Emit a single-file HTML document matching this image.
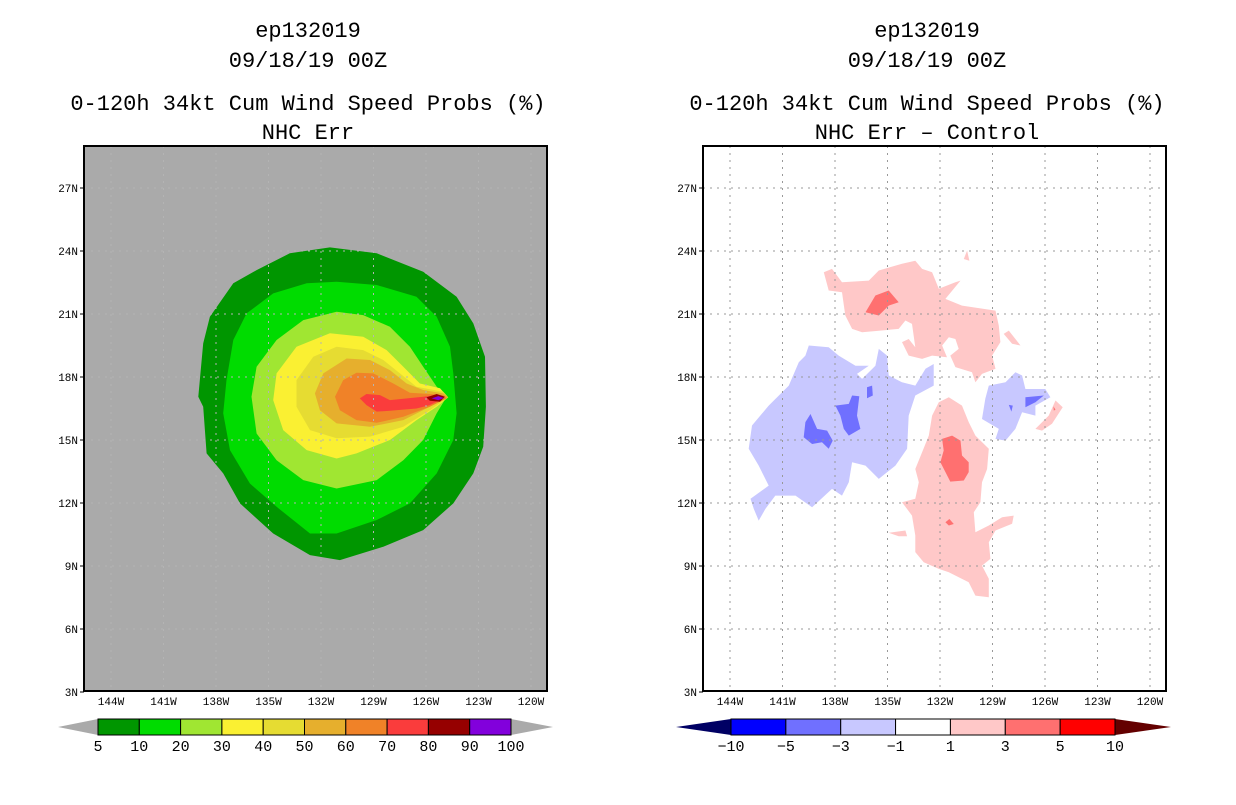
<!DOCTYPE html>
<html><head><meta charset="utf-8"><style>
body{margin:0;background:#fff;width:1236px;height:800px;overflow:hidden}
svg text{font-family:"Liberation Mono",monospace}
</style></head><body>
<svg id="s" width="1236" height="800" xmlns="http://www.w3.org/2000/svg"></svg>
<script>
const lonTicks=[-144,-141,-138,-135,-132,-129,-126,-123,-120];
const latTicks=[3,6,9,12,15,18,21,24,27];
const leftLevels=["5","10","20","30","40","50","60","70","80","90","100"];
const leftColors=["#009600","#00DC00","#A0E632","#FAF032","#E6DC32","#E6AF2D","#F08228","#FA3C3C","#960000","#8200DC"];
const rightLevels=["−10","−5","−3","−1","1","3","5","10"];
const rightColors=["#0000FF","#7070FF","#C8C8FF","#FFFFFF","#FFC8C8","#FF7070","#FF0000"];
// left filled contours: [colorIndex, lon/lat pairs]
const probContours=[
[0,[[-131.49,24.17],[-128.82,23.89],[-126.16,23.01],[-124.25,21.82],[-123.3,20.55],[-122.63,18.96],[-122.58,16.58],[-122.73,14.68],[-123.3,13.41],[-124.44,11.98],[-126.16,10.71],[-128.44,9.92],[-130.92,9.28],[-132.63,9.52],[-134.73,10.55],[-136.63,11.98],[-137.59,13.41],[-138.54,14.36],[-138.73,16.58],[-139.01,17.06],[-138.73,19.6],[-138.35,20.87],[-137.01,22.46],[-135.68,23.09],[-133.78,23.89]]],
[1,[[-131.11,22.54],[-128.82,22.38],[-126.54,21.82],[-125.39,20.87],[-124.63,19.44],[-124.44,18.17],[-124.25,16.27],[-124.44,15.0],[-125.39,13.41],[-126.92,11.98],[-128.82,11.19],[-131.11,10.55],[-132.63,10.55],[-134.54,11.82],[-136.06,12.93],[-137.2,14.52],[-137.59,16.27],[-137.4,17.85],[-137.01,19.76],[-136.25,21.03],[-134.73,21.98],[-132.82,22.46]]],
[2,[[-131.11,21.11],[-129.59,20.95],[-128.06,20.39],[-126.92,19.44],[-126.16,18.49],[-125.39,17.54],[-124.82,17.06],[-125.39,16.27],[-126.16,15.0],[-127.3,14.04],[-128.82,13.09],[-131.11,12.69],[-133.01,13.09],[-134.54,14.04],[-135.68,15.31],[-135.97,17.06],[-135.68,18.49],[-134.54,19.76],[-133.01,20.71]]],
[3,[[-131.49,20.08],[-129.59,19.92],[-128.25,19.28],[-127.3,18.49],[-126.35,17.69],[-125.2,17.46],[-124.73,17.03],[-125.39,16.58],[-126.54,15.95],[-128.06,15.0],[-129.97,14.36],[-131.11,14.12],[-132.82,14.52],[-134.16,15.47],[-134.73,16.9],[-134.54,18.17],[-133.4,19.44]]],
[4,[[-131.11,19.44],[-129.59,19.28],[-128.44,18.81],[-127.49,18.17],[-126.54,17.54],[-125.01,17.3],[-124.73,17.03],[-125.78,16.42],[-127.3,15.63],[-129.2,15.16],[-131.11,15.08],[-132.63,15.47],[-133.4,16.58],[-133.4,17.85],[-132.44,18.96]]],
[5,[[-130.54,18.88],[-129.2,18.81],[-128.06,18.33],[-127.11,17.69],[-126.16,17.38],[-125.01,17.22],[-124.73,17.03],[-125.78,16.58],[-127.3,15.95],[-129.2,15.63],[-131.11,15.79],[-132.06,16.42],[-132.35,17.22],[-131.87,18.17]]],
[6,[[-129.97,18.2],[-129.01,18.17],[-127.87,17.69],[-126.92,17.25],[-125.78,17.19],[-125.01,17.14],[-124.82,16.98],[-125.78,16.58],[-127.3,16.11],[-128.82,15.82],[-129.97,15.95],[-130.92,16.42],[-131.2,17.06],[-130.73,17.85]]],
[7,[[-129.78,16.98],[-129.4,17.19],[-128.63,17.14],[-128.06,16.9],[-126.16,17.06],[-125.39,17.14],[-125.01,16.98],[-125.78,16.66],[-126.54,16.5],[-128.06,16.39],[-128.82,16.35],[-129.4,16.66]]],
[8,[[-125.97,17.03],[-125.39,17.19],[-124.92,17.06],[-125.2,16.82],[-125.78,16.87]]],
[9,[[-125.68,16.98],[-125.3,17.09],[-124.98,17.0],[-125.3,16.89]]]
];
// right difference contours: [colorIndex, lon/lat pairs]
const diffContours=[
[2,[[-139.69,19.02],[-139.5,19.5],[-138.36,19.42],[-137.79,19.02],[-136.83,18.54],[-136.07,18.54],[-136.74,18.15],[-136.45,17.91],[-135.69,18.54],[-135.5,19.34],[-135.02,19.02],[-134.93,18.07],[-134.17,17.75],[-133.41,17.59],[-132.83,18.39],[-132.36,18.62],[-132.36,17.59],[-133.41,17.12],[-133.79,16.16],[-133.88,14.58],[-134.55,13.78],[-135.5,13.15],[-136.26,13.78],[-137.02,13.94],[-137.21,12.99],[-137.6,12.35],[-138.17,12.67],[-139.31,11.8],[-140.26,12.35],[-141.41,12.35],[-141.98,11.72],[-142.36,11.16],[-142.64,11.72],[-142.83,12.2],[-141.79,12.83],[-142.36,13.78],[-142.93,14.58],[-142.74,15.69],[-141.79,16.64],[-140.64,17.59],[-140.07,18.7]]],
[1,[[-139.69,15.85],[-139.4,16.24],[-139.02,15.53],[-138.45,15.45],[-138.13,14.97],[-138.36,14.58],[-138.74,14.89],[-139.31,14.81],[-139.79,15.13]]],
[1,[[-137.98,16.64],[-137.21,16.72],[-137.02,17.12],[-136.61,17.08],[-136.74,16.16],[-136.55,15.53],[-137.21,15.21],[-137.5,15.53],[-137.69,16.16]]],
[1,[[-136.17,17.51],[-135.88,17.59],[-135.84,17.12],[-136.17,16.99]]],
[2,[[-129.21,17.59],[-128.26,17.75],[-127.69,18.23],[-127.31,18.07],[-127.12,17.43],[-125.98,17.43],[-125.69,17.04],[-126.55,16.64],[-126.55,16.16],[-127.31,16.32],[-127.69,15.53],[-128.26,14.97],[-128.83,15.05],[-128.64,15.53],[-129.6,16.0],[-129.41,16.96]]],
[1,[[-127.12,17.04],[-126.07,17.12],[-126.55,16.8],[-127.12,16.56]]],
[1,[[-128.07,16.67],[-127.84,16.64],[-127.92,16.35]]],
[4,[[-138.64,22.99],[-138.17,23.15],[-137.6,22.51],[-136.07,22.59],[-135.5,23.07],[-134.17,23.39],[-133.41,23.54],[-133.02,23.15],[-132.45,22.99],[-132.07,22.2],[-131.12,22.51],[-130.83,22.59],[-131.69,21.72],[-130.74,21.4],[-128.83,21.16],[-128.64,20.45],[-128.55,19.66],[-129.02,19.02],[-128.83,18.39],[-129.6,18.15],[-129.98,17.75],[-130.17,18.23],[-131.12,18.47],[-131.41,19.02],[-130.93,19.34],[-131.12,19.81],[-131.5,19.89],[-131.88,19.5],[-131.6,18.94],[-132.45,19.02],[-133.02,18.86],[-133.79,19.02],[-134.17,19.66],[-133.79,19.81],[-133.41,19.42],[-133.6,20.53],[-133.98,20.69],[-134.36,20.29],[-136.45,20.13],[-137.02,20.29],[-137.41,20.93],[-137.6,22.04],[-138.36,22.12]]],
[5,[[-136.26,21.08],[-135.69,21.88],[-134.93,22.12],[-134.36,21.56],[-134.93,21.4],[-135.5,20.93]]],
[4,[[-128.36,20.05],[-128.07,20.21],[-127.4,19.5],[-127.88,19.58]]],
[4,[[-130.64,23.62],[-130.45,24.02],[-130.32,23.54]]],
[4,[[-132.07,16.8],[-131.5,17.04],[-130.74,16.64],[-130.36,15.85],[-129.98,15.21],[-129.21,14.58],[-129.31,13.62],[-129.6,12.99],[-129.69,12.04],[-130.07,11.56],[-129.98,10.61],[-129.21,10.93],[-128.45,11.32],[-127.79,11.4],[-127.88,11.01],[-128.83,10.69],[-129.21,10.13],[-129.12,9.34],[-129.6,9.02],[-129.21,8.39],[-129.21,7.51],[-129.98,7.59],[-130.36,8.23],[-131.5,8.7],[-132.07,8.86],[-132.93,9.18],[-133.41,9.66],[-133.41,10.45],[-133.6,11.4],[-134.17,12.04],[-133.41,12.2],[-133.21,12.99],[-133.41,13.62],[-133.02,14.42],[-132.64,15.21],[-132.45,16.16]]],
[5,[[-131.88,15.05],[-131.31,15.21],[-130.83,14.97],[-130.74,14.26],[-130.36,13.94],[-130.36,13.47],[-130.64,13.07],[-131.41,13.02],[-131.98,13.94],[-131.79,14.5]]],
[5,[[-131.69,11.08],[-131.46,11.24],[-131.21,11.0],[-131.5,10.93]]],
[4,[[-126.55,15.53],[-125.79,16.16],[-125.4,16.88],[-124.99,16.56],[-125.6,15.77],[-126.17,15.45]]],
[5,[[-125.52,16.6],[-125.4,16.45],[-125.5,16.4]]],
[4,[[-134.93,10.58],[-133.98,10.69],[-133.88,10.42],[-134.36,10.42]]]
];
const NS="http://www.w3.org/2000/svg",svg=document.getElementById('s');
function mk(tag,attrs,parent,txt){const e=document.createElementNS(NS,tag);for(const k in attrs)e.setAttribute(k,attrs[k]);if(txt!==undefined)e.textContent=txt;(parent||svg).appendChild(e);return e;}
function panel(ox,bg,title4,contours,colors,pname,gridCol){
  const g=mk('g',{});
  
  
  const xs=lon=>ox+321+(lon+132)*17.5, ys=lat=>377-(lat-18)*21;
  const L=ox+84,R=ox+547,T=146,B=691,cx=ox+308;
  const titles=["ep132019","09/18/19 00Z","0-120h 34kt Cum Wind Speed Probs (%)",title4];
  const ty=[37,67,110,139],tn=['storm-id','valid-time','product-title','panel-subtitle'];
  titles.forEach((t,i)=>{const e=mk('text',{x:cx,y:ty[i],'text-anchor':'middle','font-size':22,fill:'#000'},g,t);
    
    });
  const bgr=mk('rect',{x:L,y:T,width:R-L,height:B-T,fill:bg},g);
  
  
  contours.forEach(c=>{const p=mk('polygon',{points:c[1].map(q=>xs(q[0]).toFixed(1)+','+ys(q[1]).toFixed(1)).join(' '),fill:colors[c[0]]},g);
    
    });
  lonTicks.forEach(l=>{const x=xs(l);
    mk('line',{x1:x,x2:x,y1:T,y2:B,stroke:gridCol,'stroke-dasharray':'2,5','stroke-width':1},g);
    const t=mk('text',{x:x,y:B+14,'text-anchor':'middle','font-size':11,fill:'#000'},g,Math.abs(l)+'W');
    
    });
  latTicks.forEach(l=>{const y=ys(l);
    if(l>3)mk('line',{x1:L,x2:R,y1:y,y2:y,stroke:gridCol,'stroke-dasharray':'2,5','stroke-width':1},g);
    mk('line',{x1:L-4,x2:L,y1:y,y2:y,stroke:'#000'},g);
    const t=mk('text',{x:L-6,y:y+4,'text-anchor':'end','font-size':11,fill:'#000'},g,l+'N');
    
    });
  const fr=mk('rect',{x:L,y:T,width:R-L,height:B-T,fill:'none',stroke:'#000','stroke-width':2},g);
  
  
}
panel(0,'#AAAAAA',"NHC Err",probContours,leftColors,'left-panel','#B4B4B4');
panel(619,'#FFFFFF',"NHC Err – Control",diffContours,rightColors,'right-panel','#999999');
function cbar(x0,x1,tipL,tipR,colors,labels,lc,rc,name,labelOffset){
  const g=mk('g',{});
  
  
  const y0=719,y1=735,ym=727,w=(x1-x0)/colors.length;
  mk('polygon',{points:`${tipL},${ym} ${x0},${y0} ${x0},${y1}`,fill:lc},g);
  mk('polygon',{points:`${tipR},${ym} ${x1},${y0} ${x1},${y1}`,fill:rc},g);
  colors.forEach((c,i)=>{mk('rect',{x:x0+i*w,y:y0,width:w,height:y1-y0,fill:c,stroke:'#000','stroke-width':1},g);});
  labels.forEach((t,i)=>{const e=mk('text',{x:x0+(i+labelOffset)*w,y:751,'text-anchor':'middle','font-size':15,fill:'#000'},g,t);
    
    });
}
cbar(98,511,58,553,leftColors,leftLevels,'#AAAAAA','#AAAAAA','left-colorbar',0);
cbar(731,1115,676,1171,rightColors,rightLevels,'#000064','#640000','right-colorbar',0);
</script>
</body></html>
